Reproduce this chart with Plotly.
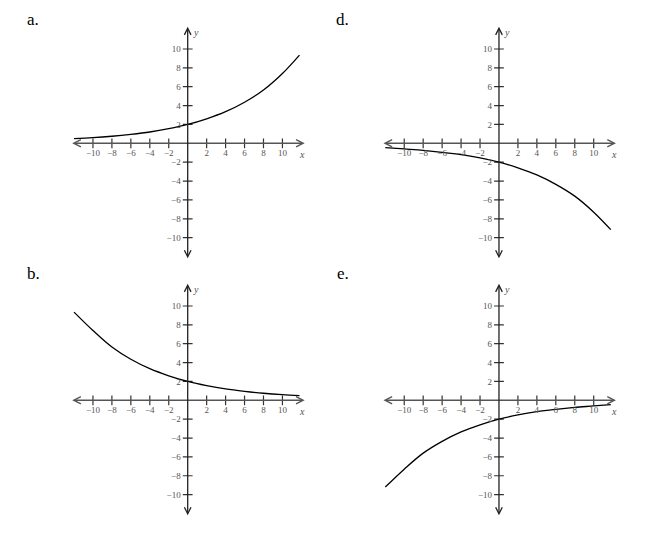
import plotly.graph_objects as go

# --- values ---
panel_names = ['a.', 'd.', 'b.', 'e.']

curve_x = [-12, -10, -8, -6, -4, -2, 0, 2, 4, 6, 8, 10, 11.8]
a_y = [0.5, 0.6, 0.75, 0.95, 1.2, 1.55, 2.0, 2.6, 3.35, 4.35, 5.65, 7.4, 9.35]
d_y = [-0.45, -0.6, -0.75, -0.95, -1.2, -1.55, -2.0, -2.6, -3.35, -4.35, -5.6, -7.3, -9.15]
b_y = [9.35, 7.4, 5.65, 4.35, 3.35, 2.6, 2.0, 1.55, 1.2, 0.95, 0.75, 0.6, 0.5]
e_y = [-9.2, -7.3, -5.6, -4.35, -3.35, -2.6, -2.0, -1.55, -1.2, -0.95, -0.75, -0.6, -0.45]

tick_vals = [-10, -8, -6, -4, -2, 2, 4, 6, 8, 10]
tick_text = ['\u221210', '\u22128', '\u22126', '\u22124', '\u22122', '2', '4', '6', '8', '10']
axis_lim = 12.35

# --- layout of the four panels (paper fractions; page has an 8px body margin) ---
x_domains = [[0.0972, 0.460], [0.5798, 0.9426], [0.0972, 0.460], [0.5798, 0.9426]]
y_domains = [[0.5249, 0.9645], [0.5249, 0.9645], [0.040, 0.4796], [0.040, 0.4796]]
letter_pos = [(0.0388, 1.0, 'top'), (0.519, 1.0, 'top'),
              (0.0388, 0.500, 'middle'), (0.519, 0.500, 'middle')]

serif = 'Liberation Serif, Times New Roman, serif'
axis_col = '#333333'
label_col = '#555555'

fig = go.Figure()
layout = dict(
    width=645, height=530,
    margin=dict(l=0, r=0, t=0, b=0),
    plot_bgcolor='white', paper_bgcolor='white',
    showlegend=False,
    annotations=[],
)

curves = [a_y, d_y, b_y, e_y]
for i in range(4):
    n = '' if i == 0 else str(i + 1)
    xa, ya = 'x' + n, 'y' + n
    xd, yd = x_domains[i], y_domains[i]
    xmid = (xd[0] + xd[1]) / 2
    ymid = (yd[0] + yd[1]) / 2

    layout['xaxis' + n] = dict(
        domain=xd, range=[-axis_lim, axis_lim], anchor='free', position=ymid,
        showgrid=False, zeroline=False, showline=False, ticks='',
        tickvals=tick_vals, ticktext=tick_text, ticklabelstandoff=3,
        tickfont=dict(family=serif, size=9, color=label_col), fixedrange=True,
    )
    layout['yaxis' + n] = dict(
        domain=yd, range=[-axis_lim, axis_lim], anchor='free', position=xmid,
        showgrid=False, zeroline=False, showline=False, ticks='',
        tickvals=tick_vals, ticktext=tick_text, ticklabelstandoff=7,
        tickfont=dict(family=serif, size=9, color=label_col), fixedrange=True,
    )

    # axis lines with arrow heads at both ends
    layout['annotations'].append(dict(
        x=axis_lim, y=0, ax=-axis_lim, ay=0, xref=xa, yref=ya, axref=xa, ayref=ya,
        text='', showarrow=True, arrowside='end+start', arrowhead=5,
        arrowsize=1.0, arrowwidth=1.4, arrowcolor='#555555'))
    layout['annotations'].append(dict(
        x=0, y=axis_lim, ax=0, ay=-axis_lim, xref=xa, yref=ya, axref=xa, ayref=ya,
        text='', showarrow=True, arrowside='end+start', arrowhead=5,
        arrowsize=1.0, arrowwidth=1.3, arrowcolor='#222222'))

    # tick marks crossing the axes
    fig.add_trace(go.Scatter(
        x=tick_vals, y=[0] * len(tick_vals), xaxis=xa, yaxis=ya, mode='markers',
        marker=dict(symbol='line-ns', size=7, line=dict(width=1.2, color=axis_col)),
        hoverinfo='skip'))
    fig.add_trace(go.Scatter(
        x=[0] * len(tick_vals), y=tick_vals, xaxis=xa, yaxis=ya, mode='markers',
        marker=dict(symbol='line-ew', size=7, line=dict(width=1.2, color=axis_col)),
        hoverinfo='skip'))

    # the curve
    fig.add_trace(go.Scatter(
        x=curve_x, y=curves[i], xaxis=xa, yaxis=ya, mode='lines',
        line=dict(color='black', width=1.3, shape='spline')))

    # axis names
    layout['annotations'].append(dict(
        x=12.1, y=0, xref=xa, yref=ya, text='<i>x</i>', showarrow=False,
        xanchor='center', yanchor='top', yshift=-4,
        font=dict(family=serif, size=10, color=label_col)))
    layout['annotations'].append(dict(
        x=0, y=11.8, xref=xa, yref=ya, text='<i>y</i>', showarrow=False,
        xanchor='left', yanchor='middle', xshift=3,
        font=dict(family=serif, size=10, color=label_col)))

    # panel letter
    lx, ly, lanchor = letter_pos[i]
    layout['annotations'].append(dict(
        x=lx, y=ly, xref='paper', yref='paper',
        text=panel_names[i], showarrow=False, xanchor='center', yanchor=lanchor,
        font=dict(family=serif, size=17, color='black')))

fig.update_layout(**layout)
fig.write_html("out.html")
